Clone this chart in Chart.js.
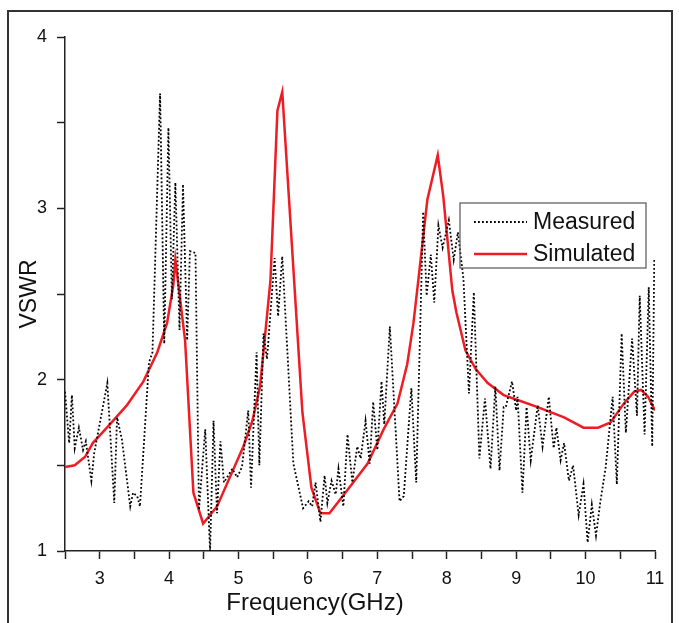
<!DOCTYPE html>
<html>
<head>
<meta charset="utf-8">
<script src="https://cdn.jsdelivr.net/npm/chart.js@4"></script>
<style>
  html, body { margin: 0; padding: 0; background: #fff; }
  #wrap { position: relative; width: 679px; height: 623px; }
</style>
</head>
<body>
<div id="wrap"><canvas id="vswrChart" width="679" height="623"></canvas></div>
<script>
// measured VSWR (dotted black)
const measuredFreq = [2.50, 2.56, 2.60, 2.64, 2.70, 2.76, 2.80, 2.88, 2.92, 3.11, 3.21, 3.25, 3.32, 3.44, 3.48, 3.54, 3.58,
  3.71, 3.76, 3.87, 3.93, 3.99, 4.04, 4.09, 4.15, 4.20, 4.26, 4.30, 4.38, 4.43, 4.52, 4.59,
  4.64, 4.69, 4.74, 4.79, 4.91, 4.98, 5.05, 5.14, 5.18, 5.26, 5.30, 5.36, 5.41, 5.52, 5.57, 5.63,
  5.72, 5.79, 5.93, 6.01, 6.06, 6.11, 6.18, 6.24, 6.28, 6.34, 6.40, 6.44, 6.51, 6.57, 6.64,
  6.71, 6.76, 6.83, 6.89, 6.94, 7.00, 7.06, 7.10, 7.18, 7.32, 7.38, 7.49, 7.56, 7.66, 7.71, 7.77,
  7.82, 7.88, 7.94, 8.03, 8.10, 8.16, 8.24, 8.32, 8.39, 8.47, 8.55, 8.63, 8.70, 8.76, 8.82,
  8.85, 8.94, 9.00, 9.02, 9.09, 9.15, 9.21, 9.31, 9.38, 9.47, 9.54, 9.58, 9.64, 9.69, 9.76, 9.82,
  9.90, 9.97, 10.03, 10.09, 10.15, 10.21, 10.29, 10.39, 10.45, 10.52, 10.58, 10.67, 10.74, 10.78,
  10.85, 10.91, 10.96, 10.99];
const measuredVswr = [1.93, 1.63, 1.91, 1.60, 1.72, 1.59, 1.64, 1.41, 1.57, 1.98, 1.28, 1.78, 1.65, 1.26, 1.34, 1.32, 1.26,
  2.10, 2.16, 3.67, 2.21, 3.47, 2.47, 3.15, 2.29, 3.14, 2.23, 2.75, 2.74, 1.24, 1.71, 1.00,
  1.76, 1.22, 1.64, 1.40, 1.48, 1.43, 1.49, 1.82, 1.37, 2.16, 1.50, 2.27, 2.12, 2.71, 2.37, 2.72,
  2.04, 1.51, 1.25, 1.29, 1.26, 1.40, 1.17, 1.44, 1.28, 1.41, 1.33, 1.48, 1.26, 1.68, 1.40,
  1.61, 1.54, 1.76, 1.51, 1.87, 1.59, 1.99, 1.74, 2.31, 1.29, 1.32, 1.95, 1.40, 2.98, 2.49, 2.73,
  2.45, 2.90, 2.77, 2.93, 2.70, 2.86, 2.59, 1.92, 2.51, 1.54, 1.89, 1.48, 1.96, 1.47, 1.84,
  1.84, 1.99, 1.82, 1.90, 1.34, 1.84, 1.53, 1.85, 1.61, 1.90, 1.60, 1.72, 1.53, 1.63, 1.41, 1.50,
  1.21, 1.39, 1.05, 1.27, 1.09, 1.28, 1.49, 1.90, 1.39, 2.27, 1.69, 2.24, 1.79, 2.49,
  1.68, 2.54, 1.61, 2.71];

// simulated VSWR (solid red)
const simFreq = [2.50, 2.64, 2.79, 2.90, 3.15, 3.39, 3.63, 3.83, 3.97, 4.06, 4.09, 4.23, 4.35, 4.49,
  4.69, 5.07, 5.20, 5.31, 5.46, 5.56, 5.63, 5.79, 5.92, 6.05, 6.18, 6.31, 6.50, 6.86, 7.09, 7.29,
  7.43, 7.52, 7.59, 7.72, 7.87, 7.95, 8.08, 8.14, 8.27, 8.42, 8.59, 8.82, 8.96, 9.31, 9.69, 9.97,
  10.18, 10.36, 10.55, 10.70, 10.80, 10.90, 11.00];
const simVswr = [1.49, 1.50, 1.55, 1.63, 1.74, 1.85, 1.99, 2.16, 2.33, 2.55, 2.70, 2.23, 1.34, 1.16,
  1.26, 1.61, 1.76, 1.96, 2.58, 3.57, 3.68, 2.65, 1.81, 1.37, 1.22, 1.22, 1.32, 1.51, 1.71, 1.86,
  2.09, 2.33, 2.58, 3.05, 3.31, 3.07, 2.52, 2.39, 2.17, 2.06, 1.98, 1.91, 1.89, 1.84, 1.78, 1.72,
  1.72, 1.75, 1.86, 1.93, 1.94, 1.90, 1.82];

const xTicks = [3, 4, 5, 6, 7, 8, 9, 10, 11];
const yTicks = [1, 2, 3, 4];
const xTitle = 'Frequency(GHz)';

const FONT = '"Liberation Sans", Arial, sans-serif';
const toPoints = (xs, ys) => xs.map((x, i) => ({ x: x, y: ys[i] }));

// outer frame, x title and the legend box inside the plot
const framePlugin = {
    id: 'frame',
    afterDraw(chart) {
        const ctx = chart.ctx;
        ctx.save();
        ctx.strokeStyle = '#333';
        ctx.lineWidth = 2;
        ctx.strokeRect(8, 11, 664, 640);

        ctx.fillStyle = '#111';
        ctx.font = '24px ' + FONT;
        ctx.textAlign = 'center';
        ctx.textBaseline = 'middle';
        ctx.fillText(xTitle, 315, 603);

        // legend
        const bx = 460, by = 203, bw = 186, bh = 65;
        ctx.strokeStyle = '#555';
        ctx.lineWidth = 1.2;
        ctx.strokeRect(bx, by, bw, bh);
        ctx.font = '23px ' + FONT;
        ctx.textAlign = 'left';
        chart.data.datasets.forEach((ds, i) => {
            const y = by + 19 + i * 32;
            ctx.beginPath();
            ctx.strokeStyle = ds.borderColor;
            ctx.lineWidth = ds.borderWidth;
            ctx.setLineDash(ds.borderDash || []);
            ctx.moveTo(bx + 14, y);
            ctx.lineTo(bx + 67, y);
            ctx.stroke();
            ctx.setLineDash([]);
            ctx.fillText(ds.label, bx + 73, y + 1);
        });
        ctx.restore();
    }
};

const ctx = document.getElementById('vswrChart').getContext('2d');
new Chart(ctx, {
    type: 'line',
    data: {
        datasets: [{
            label: 'Measured',
            data: toPoints(measuredFreq, measuredVswr),
            borderColor: '#000',
            borderWidth: 1.8,
            borderDash: [1.8, 2.2],
            pointRadius: 0,
            tension: 0,
            fill: false
        }, {
            label: 'Simulated',
            data: toPoints(simFreq, simVswr),
            borderColor: '#ee1d24',
            borderWidth: 2.5,
            pointRadius: 0,
            tension: 0,
            fill: false
        }]
    },
    options: {
        responsive: false,
        animation: false,
        layout: { padding: { top: 37, right: 24, left: 16, bottom: 0 } },
        plugins: { legend: { display: false }, tooltip: { enabled: false } },
        scales: {
            x: {
                type: 'linear',
                min: 2.5,
                max: 11,
                afterFit: (s) => { s.height = 72; },
                border: { display: true, color: '#222', width: 1.5 },
                grid: { display: true, drawOnChartArea: false, drawTicks: true, tickLength: 8, color: '#222', tickWidth: 1.5 },
                ticks: {
                    stepSize: 0.5,
                    autoSkip: false,
                    maxRotation: 0,
                    padding: 9,
                    color: '#111',
                    font: { family: FONT, size: 18 },
                    callback: (v) => xTicks.includes(v) ? String(v) : ''
                },
                title: { display: false }
            },
            y: {
                min: 1,
                max: 4,
                afterFit: (s) => { s.width = 49; },
                border: { display: true, color: '#222', width: 1.5 },
                grid: { display: true, drawOnChartArea: false, drawTicks: true, tickLength: 8, color: '#222', tickWidth: 1.5 },
                ticks: {
                    stepSize: 0.5,
                    autoSkip: false,
                    padding: 10,
                    color: '#111',
                    font: { family: FONT, size: 18 },
                    callback: (v) => yTicks.includes(v) ? String(v) : ''
                },
                title: {
                    display: true,
                    text: 'VSWR',
                    color: '#111',
                    padding: { top: 0, bottom: 0 },
                    font: { family: FONT, size: 23 }
                }
            }
        }
    },
    plugins: [framePlugin]
});
</script>
</body>
</html>
